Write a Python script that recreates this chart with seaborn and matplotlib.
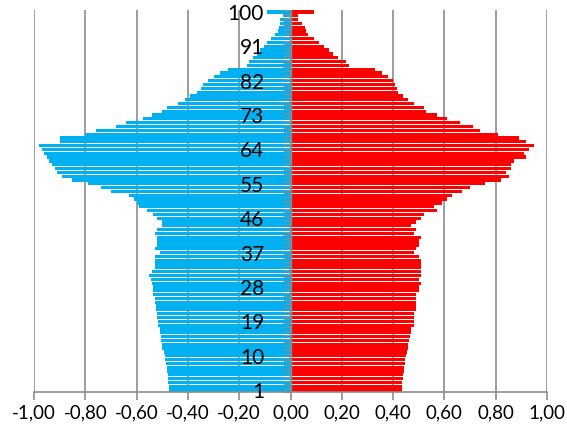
import numpy as np
import pandas as pd
import matplotlib
matplotlib.use("Agg")
import matplotlib.pyplot as plt
import seaborn as sns

# ages 100 down to 1
ages = list(range(100, 0, -1))

men = [-0.09, -0.03, -0.04, -0.04, -0.045, -0.05, -0.06, -0.075, -0.09, -0.105,
       -0.12, -0.13, -0.145, -0.16, -0.17, -0.245, -0.275, -0.30, -0.32, -0.34,
       -0.35, -0.365, -0.39, -0.41, -0.44, -0.48, -0.50, -0.54, -0.575, -0.64,
       -0.68, -0.76, -0.80, -0.90, -0.90, -0.98, -0.97, -0.96, -0.95, -0.94,
       -0.93, -0.92, -0.91, -0.89, -0.85, -0.79, -0.74, -0.70, -0.63, -0.61,
       -0.60, -0.59, -0.56, -0.535, -0.52, -0.50, -0.50, -0.52, -0.53, -0.52,
       -0.52, -0.52, -0.53, -0.51, -0.53, -0.53, -0.53, -0.53, -0.54, -0.55,
       -0.545, -0.54, -0.535, -0.535, -0.535, -0.53, -0.53, -0.525, -0.525, -0.52,
       -0.52, -0.515, -0.515, -0.51, -0.51, -0.505, -0.505, -0.50, -0.50, -0.495,
       -0.49, -0.49, -0.485, -0.48, -0.48, -0.478, -0.477, -0.476, -0.475, -0.475]

women = [0.09, 0.03, 0.03, 0.046, 0.055, 0.06, 0.07, 0.09, 0.11, 0.13,
         0.15, 0.166, 0.185, 0.215, 0.23, 0.33, 0.355, 0.38, 0.40, 0.407,
         0.416, 0.42, 0.437, 0.457, 0.48, 0.52, 0.53, 0.57, 0.61, 0.66,
         0.71, 0.74, 0.81, 0.89, 0.92, 0.95, 0.93, 0.91, 0.92, 0.87,
         0.86, 0.86, 0.84, 0.85, 0.82, 0.76, 0.70, 0.67, 0.63, 0.61,
         0.59, 0.56, 0.57, 0.52, 0.51, 0.49, 0.47, 0.49, 0.48, 0.51,
         0.50, 0.50, 0.49, 0.48, 0.50, 0.51, 0.51, 0.51, 0.51, 0.51,
         0.50, 0.51, 0.50, 0.50, 0.49, 0.49, 0.49, 0.49, 0.49, 0.48,
         0.48, 0.48, 0.48, 0.47, 0.47, 0.465, 0.462, 0.46, 0.457, 0.453,
         0.45, 0.448, 0.445, 0.443, 0.441, 0.44, 0.439, 0.436, 0.435, 0.434]

label_ages = [1, 10, 19, 28, 37, 46, 55, 64, 73, 82, 91, 100]
x_ticks = [-1.0, -0.8, -0.6, -0.4, -0.2, 0.0, 0.2, 0.4, 0.6, 0.8, 1.0]
x_labels = ["-1,00", "-0,80", "-0,60", "-0,40", "-0,20", "0,00",
            "0,20", "0,40", "0,60", "0,80", "1,00"]

df = pd.DataFrame({"age": ages, "men": men, "women": women})

plt.rcParams["font.family"] = ["Lato", "DejaVu Sans"]
grid_col = "#8c8c8c"

fig = plt.figure(figsize=(5.67, 4.34), dpi=100)
ax = fig.add_axes([34 / 567, 1 - 392 / 434, 513 / 567, 382 / 434])

sns.barplot(data=df, x="men", y="age", orient="h", native_scale=True,
            color="#00B0F0", saturation=1, width=0.85, linewidth=0,
            errorbar=None, ax=ax)
sns.barplot(data=df, x="women", y="age", orient="h", native_scale=True,
            color="#FF0000", saturation=1, width=0.85, linewidth=0,
            errorbar=None, ax=ax)

ax.set_xlim(-1.0, 1.0)
ax.set_ylim(0.5, 100.5)
ax.set_xlabel("")
ax.set_ylabel("")

ax.set_xticks(x_ticks, x_labels)
ax.set_yticks(label_ages, [str(a) for a in label_ages])
ax.set_yticks(np.arange(0.5, 101, 1.0), minor=True)

ax.grid(axis="x", color=grid_col, linewidth=1.2)
ax.grid(axis="y", visible=False)
# grid behind the bars, age labels on top of them
ax.xaxis.set_zorder(0.5)
ax.yaxis.set_zorder(5)

ax.spines["top"].set_visible(False)
ax.spines["right"].set_visible(False)
ax.spines["left"].set_position(("data", 0))
ax.spines["left"].set_color(grid_col)
ax.spines["bottom"].set_color(grid_col)
ax.spines["left"].set_linewidth(1.0)
ax.spines["bottom"].set_linewidth(1.2)

ax.tick_params(axis="y", which="major", length=0, pad=19, labelsize=15)
ax.tick_params(axis="y", which="minor", length=6, color=grid_col, width=0.8)
ax.tick_params(axis="x", length=6, color=grid_col, width=1.2, pad=3, labelsize=13.5)

fig.savefig("out.png", dpi=100)
